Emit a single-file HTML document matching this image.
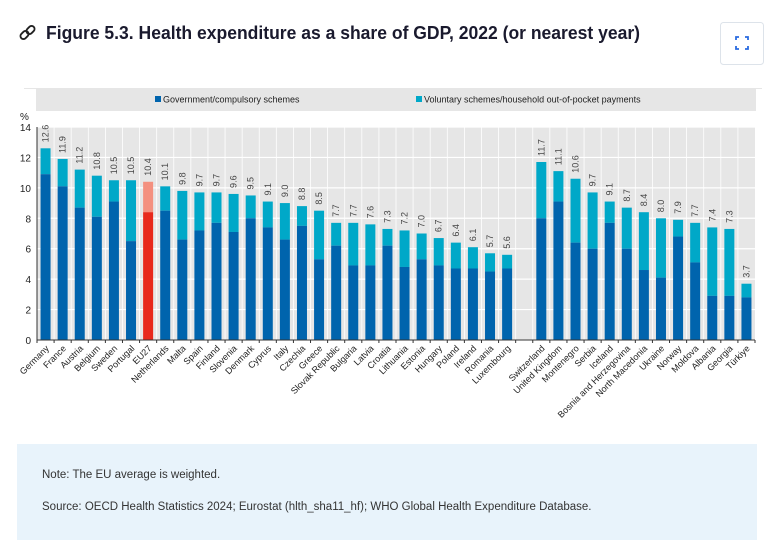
<!DOCTYPE html>
<html><head><meta charset="utf-8"><style>
body{margin:0;background:#fff;width:776px;height:554px;overflow:hidden;font-family:"Liberation Sans",sans-serif}
svg{position:absolute;left:0;top:0}
.note{position:absolute;left:17px;top:444px;width:740px;height:96px;background:#e8f3fb;font-size:11.5px;color:#333}
</style></head><body>
<svg id="chart" width="776" height="554" xmlns="http://www.w3.org/2000/svg">
<g fill="none" stroke="#222" stroke-width="1.8">
<rect x="20" y="32" width="9" height="6" rx="3" transform="rotate(-45 24.5 35)"/>
<rect x="26" y="27" width="9" height="6" rx="3" transform="rotate(-45 30.5 30)"/>
</g>
<text x="46" y="39" font-size="18" font-weight="bold" fill="#1a1a2e" textLength="594" lengthAdjust="spacingAndGlyphs">Figure 5.3. Health expenditure as a share of GDP, 2022 (or nearest year)</text>
<g>
<rect x="720.5" y="22.5" width="43" height="42" rx="3" fill="#fff" stroke="#dde3ea"/>
<path d="M736 40v-3h3M745 37h3v3M748 46v3h-3M739 49h-3v-3" stroke="#2a6be0" stroke-width="1.8" fill="none"/>
</g>
<line x1="24" y1="88.5" x2="762" y2="88.5" stroke="#e6e6e6"/>
<rect x="36" y="89" width="720" height="22" fill="#e6e6e6"/>
<g><rect x="155" y="96" width="6" height="6" fill="#0064ad"/><text x="163" y="102.5" font-size="9" fill="#222">Government/compulsory schemes</text></g>
<g><rect x="416" y="96" width="6" height="6" fill="#00a8c8"/><text x="424" y="102.5" font-size="9" fill="#222">Voluntary schemes/household out-of-pocket payments</text></g>
<text x="20" y="120" font-size="10" fill="#222">%</text>
<g id="plot"></g>
</svg>
<div class="note">
<div style="position:absolute;left:25px;top:25px">Note: The EU average is weighted.</div>
<div style="position:absolute;left:25px;top:57px">Source: OECD Health Statistics 2024; Eurostat (hlth_sha11_hf); WHO Global Health Expenditure Database.</div>
</div>
<script>
const categories=["Germany","France","Austria","Belgium","Sweden","Portugal","EU27","Netherlands","Malta","Spain","Finland","Slovenia","Denmark","Cyprus","Italy","Czechia","Greece","Slovak Republic","Bulgaria","Latvia","Croatia","Lithuania","Estonia","Hungary","Poland","Ireland","Romania","Luxembourg","","Switzerland","United Kingdom","Montenegro","Serbia","Iceland","Bosnia and Herzegovina","North Macedonia","Ukraine","Norway","Moldova","Albania","Georgia","Türkiye"];
const totals=[12.6,11.9,11.2,10.8,10.5,10.5,10.4,10.1,9.8,9.7,9.7,9.6,9.5,9.1,9.0,8.8,8.5,7.7,7.7,7.6,7.3,7.2,7.0,6.7,6.4,6.1,5.7,5.6,null,11.7,11.1,10.6,9.7,9.1,8.7,8.4,8.0,7.9,7.7,7.4,7.3,3.7];
const government=[10.9,10.1,8.7,8.1,9.1,6.5,8.4,8.5,6.6,7.2,7.7,7.1,8.0,7.4,6.6,7.5,5.3,6.2,4.9,4.9,6.2,4.8,5.3,4.9,4.7,4.7,4.5,4.7,null,8.0,9.1,6.4,6.0,7.7,6.0,4.6,4.1,6.8,5.1,2.9,2.9,2.8];
const yTicks=[0,2,4,6,8,10,12,14];
const NS="http://www.w3.org/2000/svg";
const X0=37,X1=755,Y0=340,Y1=127,YMAX=14;
const n=categories.length,step=(X1-X0)/n,bw=10;
const y=v=>Y0-(v/YMAX)*(Y0-Y1);
const xc=i=>X0+step*(i+0.5);
const plot=document.getElementById('plot');
function mk(tag,attrs){const e=document.createElementNS(NS,tag);for(const k in attrs)e.setAttribute(k,attrs[k]);plot.appendChild(e);return e;}
let bg=mk('rect',{x:X0,y:Y1,width:X1-X0,height:Y0-Y1,fill:'#e6e6e6'});


yTicks.forEach(t=>{
 let l=mk('line',{x1:X0,x2:X1,y1:y(t),y2:y(t),stroke:'#fff','stroke-width':1.2});
 
 
 let tx=mk('text',{x:X0-6,y:y(t)+4,'font-size':10,'text-anchor':'end',fill:'#222'});
 tx.textContent=t;
 
 
});
for(let i=1;i<n;i++){
 let l=mk('line',{x1:X0+step*i,x2:X0+step*i,y1:Y1,y2:Y0,stroke:'#fff','stroke-width':0.8});
 
 
}
categories.forEach((c,i)=>{
 if(totals[i]==null)return;
 const eu=c==="EU27";
 let r1=mk('rect',{x:xc(i)-bw/2,y:y(totals[i]),width:bw,height:y(government[i])-y(totals[i]),fill:eu?'#f4907f':'#00a8c8'});
 
 
 let r2=mk('rect',{x:xc(i)-bw/2,y:y(government[i]),width:bw,height:Y0-y(government[i]),fill:eu?'#e8291c':'#0064ad'});
 
 
 let v=mk('text',{x:0,y:0,'font-size':9,fill:'#444',transform:`translate(${xc(i)+3},${y(totals[i])-6}) rotate(-90)`});
 v.textContent=totals[i].toFixed(1);
 
 
 let lb=mk('text',{x:0,y:0,'font-size':9,fill:'#222','text-anchor':'end',transform:`translate(${xc(i)+4},${Y0+9}) rotate(-45)`});
 lb.textContent=c;
 
 
});
let ax=mk('line',{x1:X0,x2:X1,y1:Y0,y2:Y0,stroke:'#333'});


let ay=mk('line',{x1:X0,x2:X0,y1:Y1,y2:Y0,stroke:'#333'});


for(let i=0;i<=n;i++){
 let t=mk('line',{x1:X0+step*i,x2:X0+step*i,y1:Y0,y2:Y0+3,stroke:'#333'});
 
 
}
</script>
</body></html>
